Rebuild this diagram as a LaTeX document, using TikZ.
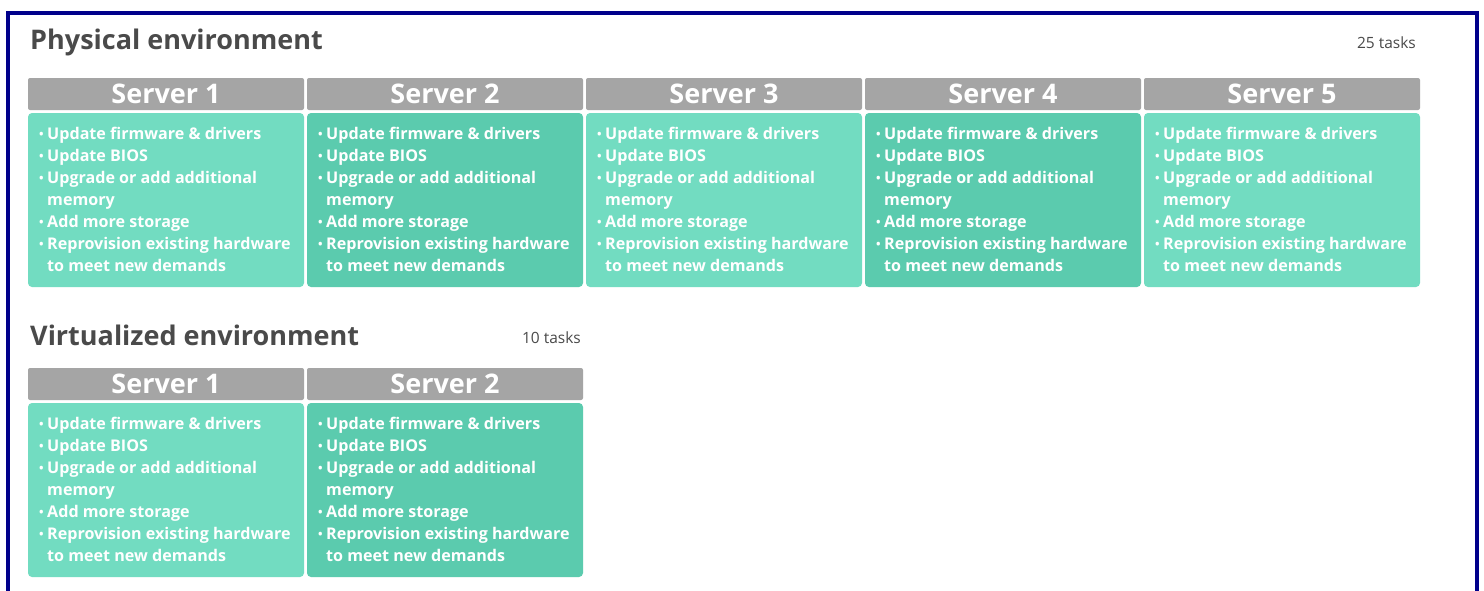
\documentclass[tikz,border=0pt]{standalone}
\usepackage{fontspec}
\setmainfont{Open Sans}
\usetikzlibrary{positioning}

\definecolor{framecol}{HTML}{00008B}
\definecolor{titlecol}{HTML}{4A4A4A}
\definecolor{headcol}{HTML}{A5A5A5}
\definecolor{lighttask}{HTML}{72DCC1}
\definecolor{darktask}{HTML}{5BCBAE}

\tikzset{
    servhead/.style={fill=headcol, rounded corners=2pt, inner sep=0pt,
        minimum width=276, minimum height=32, text=white,
        font=\bfseries\fontsize{27}{27}\selectfont},
    taskbox/.style={rounded corners=4pt, inner sep=0pt,
        minimum width=276, minimum height=174},
    tasktext/.style={anchor=north west, inner sep=0pt, text=white, align=left,
        font=\bfseries\fontsize{16.1}{22}\selectfont},
    envtitle/.style={anchor=base west, inner sep=0pt, text=titlecol,
        font=\bfseries\fontsize{27}{27}\selectfont},
    taskcount/.style={anchor=base east, inner sep=0pt, text=titlecol,
        font=\fontsize{15.5}{15.5}\selectfont}
}

% the five upgrade tasks of one server
\newcommand{\taskdot}{\raisebox{1.5pt}{\fontsize{12}{12}\selectfont\textbullet}}
\newcommand{\servertasks}{%
    \begin{tabular}{@{}p{8pt}@{}l@{}}
        \taskdot & Update firmware \& drivers\\
        \taskdot & Update BIOS\\
        \taskdot & Upgrade or add additional\\
        & memory\\
        \taskdot & Add more storage\\
        \taskdot & Reprovision existing hardware\\
        & to meet new demands
    \end{tabular}}

\begin{document}
\begin{tikzpicture}[x=1pt, y=-1pt]
    \useasboundingbox (0,0) rectangle (1484,590);
    \fill[white] (0,0) rectangle (1484,590);
    % the frame round the page, open at the bottom
    \draw[framecol, line width=4pt] (8,600) -- (8,13) -- (1477,13) -- (1477,600);

    % the physical environment label and task count
    \node[envtitle] (phys-title) at (30,49) {Physical environment};
    \node[taskcount] (phys-count) at (1416,48) {25 tasks};

    % server 1
    \node[servhead] (phys-head-1) at (166,94) {Server 1};
    \node[taskbox, fill=lighttask] (phys-box-1) at (166,200) {};
    \node[tasktext] (phys-text-1) at (39,124) {\servertasks};
    % server 2
    \node[servhead] (phys-head-2) at (445,94) {Server 2};
    \node[taskbox, fill=darktask] (phys-box-2) at (445,200) {};
    \node[tasktext] (phys-text-2) at (318,124) {\servertasks};
    % server 3
    \node[servhead] (phys-head-3) at (724,94) {Server 3};
    \node[taskbox, fill=lighttask] (phys-box-3) at (724,200) {};
    \node[tasktext] (phys-text-3) at (597,124) {\servertasks};
    % server 4
    \node[servhead] (phys-head-4) at (1003,94) {Server 4};
    \node[taskbox, fill=darktask] (phys-box-4) at (1003,200) {};
    \node[tasktext] (phys-text-4) at (876,124) {\servertasks};
    % server 5
    \node[servhead] (phys-head-5) at (1282,94) {Server 5};
    \node[taskbox, fill=lighttask] (phys-box-5) at (1282,200) {};
    \node[tasktext] (phys-text-5) at (1155,124) {\servertasks};

    % the virtualized environment label and task count
    \node[envtitle] (virt-title) at (30,345) {Virtualized environment};
    \node[taskcount] (virt-count) at (581,343) {10 tasks};

    % server 1
    \node[servhead] (virt-head-1) at (166,384) {Server 1};
    \node[taskbox, fill=lighttask] (virt-box-1) at (166,490) {};
    \node[tasktext] (virt-text-1) at (39,414) {\servertasks};
    % server 2
    \node[servhead] (virt-head-2) at (445,384) {Server 2};
    \node[taskbox, fill=darktask] (virt-box-2) at (445,490) {};
    \node[tasktext] (virt-text-2) at (318,414) {\servertasks};
\end{tikzpicture}
\end{document}
